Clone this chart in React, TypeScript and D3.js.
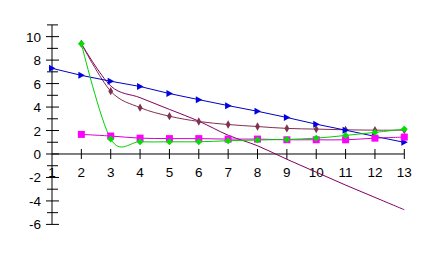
import React from "react";
import * as d3 from "d3";

const xs = [1, 2, 3, 4, 5, 6, 7, 8, 9, 10, 11, 12, 13];
const blueX = [1, 2, 3, 4, 5, 6, 7, 8, 9, 10, 11, 12, 13];
const blueY = [7.3, 6.7, 6.2, 5.75, 5.15, 4.63, 4.12, 3.64, 3.11, 2.54, 2.03, 1.5, 0.99];
const xs2 = [2, 3, 4, 5, 6, 7, 8, 9, 10, 11, 12, 13];
const diamondY = [9.4, 5.35, 3.95, 3.22, 2.77, 2.51, 2.34, 2.18, 2.12, 2.06, 2.03, 2.03];
const plainY = [9.4, 5.8, 4.8, 3.8, 2.8, 1.6, 0.7, -0.45, -1.55, -2.65, -3.7, -4.75];
const greenY = [9.4, 1.27, 1.04, 1.04, 1.04, 1.13, 1.19, 1.24, 1.35, 1.58, 1.84, 2.12];
const magentaY = [1.67, 1.53, 1.35, 1.31, 1.31, 1.27, 1.27, 1.21, 1.21, 1.21, 1.35, 1.44];
const xTickLabels = ["1", "2", "3", "4", "5", "6", "7", "8", "9", "10", "11", "12", "13"];
const yMajor = [-6, -4, -2, 0, 2, 4, 6, 8, 10];
const yMinor = [-5, -3, -1, 1, 3, 5, 7, 9, 11];

export default function App() {
  const x = d3.scaleLinear().domain([1, 13]).range([52, 404.3]);
  const y = d3.scaleLinear().domain([-6, 11]).range([224.4, 24.9]);
  const font = "'Liberation Sans', Arial, sans-serif";

  const smooth = d3.curveCatmullRom.alpha(0);
  const lineOf = (xv: number[], yv: number[], curve: any) =>
    d3
      .line<number>()
      .x((_, i) => x(xv[i]))
      .y((d) => y(d))
      .curve(curve)(yv) || "";

  const tri = (cx: number, cy: number) =>
    `M${cx - 3},${cy - 3.5}L${cx + 3.5},${cy}L${cx - 3},${cy + 3.5}Z`;
  const diamond = d3.symbol().type(d3.symbolDiamond).size(20);
  const star = d3.symbol().type(d3.symbolSquare).size(24);

  return (
    <svg width={430} height={254} style={{ position: "absolute", left: 0, top: 0, background: "#fff" }}>
      {/* axes */}
      <line x1={x(1)} x2={x(13)} y1={y(0)} y2={y(0)} stroke="#000" />
      <line x1={x(1)} x2={x(1)} y1={y(11)} y2={y(-6)} stroke="#000" />
      {xs.slice(1).map((v) => (
        <line key={"xt" + v} x1={x(v)} x2={x(v)} y1={y(0) - 5} y2={y(0) + 5} stroke="#000" />
      ))}
      {xs.map((v, i) => (
        <text key={"xl" + v} x={x(v)} y={y(0) + 23} textAnchor="middle" fontFamily={font} fontSize={13.5} fill="#000">
          {xTickLabels[i]}
        </text>
      ))}
      {yMajor.map((v) => (
        <g key={"ym" + v}>
          <line x1={x(1) - 6} x2={x(1) + 7} y1={y(v)} y2={y(v)} stroke="#000" />
          <text x={x(1) - 11} y={y(v) + 5} textAnchor="end" fontFamily={font} fontSize={13.5} fill="#000">
            {v}
          </text>
        </g>
      ))}
      {yMinor.map((v) => (
        <line key={"yn" + v} x1={x(1) - 5} x2={x(1) + 6} y1={y(v)} y2={y(v)} stroke="#000" />
      ))}

      {/* series */}
      <path d={lineOf(xs2, plainY, smooth)} fill="none" stroke="#800060" strokeWidth={1} />
      <path d={lineOf(xs2, diamondY, smooth)} fill="none" stroke="#803050" strokeWidth={1} />
      <path d={lineOf(blueX, blueY, d3.curveLinear)} fill="none" stroke="#0000c8" strokeWidth={1} />
      <path d={lineOf(xs2, magentaY, smooth)} fill="none" stroke="#d000d0" strokeWidth={1} />
      <path d={lineOf(xs2, greenY, smooth)} fill="none" stroke="#00d000" strokeWidth={1} />

      {diamondY.map((v, i) => (
        <path key={"d" + i} d={diamond() || ""} transform={`translate(${x(xs2[i])},${y(v)})`} fill="#803050" />
      ))}
      {blueY.map((v, i) => (
        <path key={"b" + i} d={tri(x(blueX[i]), y(v))} fill="#0000e0" />
      ))}
      {magentaY.map((v, i) => (
        <rect key={"m" + i} x={x(xs2[i]) - 3.5} y={y(v) - 3.5} width={7} height={7} fill="#ff00ff" />
      ))}
      {greenY.map((v, i) => (
        <path key={"g" + i} d={star() || ""} transform={`translate(${x(xs2[i])},${y(v)}) rotate(45)`} fill="#00e000" />
      ))}
    </svg>
  );
}
